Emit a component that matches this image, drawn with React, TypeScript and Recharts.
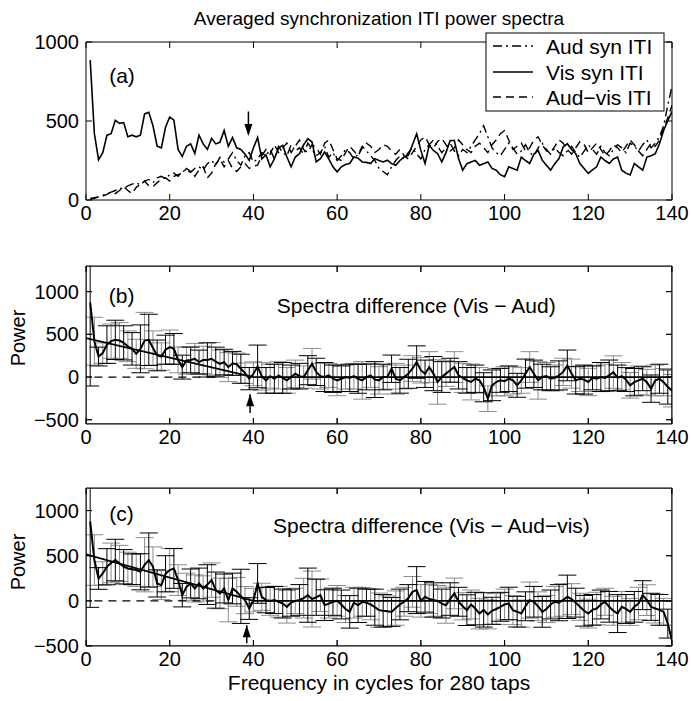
import React from 'react'
import { LineChart, Line, XAxis, YAxis, ErrorBar, ReferenceLine, ReferenceDot } from 'recharts'

// frequency bins 1..140 (x categories)
const freq = Array.from({ length: 140 }, (_, i) => i + 1)

const xTicks = [0, 20, 40, 60, 80, 100, 120, 140]
const yTicksA = [0, 500, 1000]
const yTicksBC = [-500, 0, 500, 1000]

// (a) averaged ITI power spectra
const visSyn = [
  885, 420, 255, 300, 410, 420, 505, 485, 490, 400,
  410, 400, 410, 545, 555, 470, 340, 330, 460, 525,
  505, 320, 275, 340, 355, 295, 410, 355, 320, 390,
  355, 365, 440, 340, 395, 330, 320, 290, 250, 330,
  395, 260, 285, 210, 260, 330, 346, 272, 210, 272,
  293, 350, 388, 367, 241, 262, 304, 260, 210, 178,
  210, 225, 231, 272, 265, 241, 238, 231, 262, 250,
  241, 252, 230, 220, 250, 272, 283, 350, 419, 314,
  231, 346, 314, 293, 241, 300, 377, 377, 262, 189,
  230, 241, 250, 220, 230, 241, 200, 189, 160, 147,
  210, 200, 189, 272, 250, 231, 290, 314, 252, 220,
  189, 230, 262, 335, 356, 320, 293, 231, 200, 168,
  190, 210, 272, 250, 231, 260, 272, 189, 170, 158,
  231, 210, 189, 272, 280, 293, 356, 440, 503, 560,
]
const audSyn = [
  10, 15, 20, 30, 40, 50, 60, 75, 70, 90,
  100, 110, 95, 120, 130, 110, 140, 150, 135, 160,
  170, 150, 180, 190, 175, 200, 210, 190, 230, 250,
  220, 270, 240, 260, 300, 250, 220, 280, 300, 240,
  260, 300, 280, 320, 260, 340, 300, 280, 350, 310,
  330, 290, 360, 320, 280, 300, 340, 270, 300, 250,
  280, 320, 300, 260, 290, 340, 310, 280, 250, 200,
  180, 160, 210, 250, 280, 260, 300, 330, 290, 260,
  320, 350, 380, 340, 300, 330, 360, 310, 280, 320,
  300, 340, 380, 420, 470, 400, 330, 300, 280, 320,
  360, 330, 290, 310, 350, 300, 280, 330, 360, 320,
  290, 330, 300, 280, 310, 340, 300, 270, 310, 350,
  320, 290, 340, 300, 280, 320, 350, 330, 300, 360,
  340, 310, 350, 380, 330, 360, 400, 470, 600, 720,
]
const audVis = [
  5, 10, 20, 25, 35, 50, 40, 60, 85, 60,
  40, 80, 100, 120, 90, 85, 110, 130, 140, 120,
  150, 160, 170, 200, 180, 150, 190, 210, 140, 170,
  230, 260, 210, 250, 200, 180, 210, 230, 200, 215,
  220, 280, 320, 290, 350, 300, 330, 360, 300, 340,
  380, 320, 300, 350, 330, 290, 360, 380, 320, 260,
  250, 300, 340, 310, 280, 330, 360, 340, 300, 320,
  350, 340, 310, 290, 320, 280, 260, 300, 340, 380,
  400, 350, 330, 370, 390, 350, 310, 330, 380, 350,
  320, 300, 340, 360, 330, 300, 350, 380, 420, 440,
  380, 320, 340, 360, 310, 330, 380, 400, 350, 310,
  300, 340, 380, 360, 320, 290, 330, 370, 350, 300,
  330, 360, 320, 280, 310, 350, 330, 300, 340, 380,
  350, 310, 280, 320, 360, 340, 380, 450, 520, 600,
]

// (b) Vis - Aud difference, mean and error
const diffVA = [
  875, 420, 240, 280, 380, 420, 435, 427, 400, 360,
  330, 272, 330, 427, 435, 340, 253, 240, 320, 350,
  330, 200, 116, 194, 200, 214, 175, 200, 200, 214,
  180, 155, 175, 116, 160, 150, 97, 45, -19, 38,
  124, 8, -39, 10, -20, 19, -10, -39, 0, 38,
  10, 0, 80, 155, 60, 10, 0, 19, -20, -39,
  -20, 0, -10, 10, -20, -39, 0, 19, -30, -39,
  0, 0, 97, -20, -39, 0, 38, 100, 175, 80,
  38, 117, 40, -58, 0, 40, 80, 117, 20, -10,
  -39, -58, -20, -39, -120, -253, -97, -60, -39, -50,
  -20, -39, -97, -40, 40, 117, 38, -39, 0, 10,
  -20, -10, 19, 60, 136, 40, -39, -20, -30, -58,
  -10, -20, 0, -10, 19, 58, -10, 10, -30, -97,
  -60, -40, -20, -60, -136, -40, -20, -60, -117, -160,
]
const errVA = [
  980, 280, 110, 120, 220, 200, 230, 210, 200, 180,
  190, 170, 280, 330, 300, 200, 180, 160, 170, 200,
  180, 150, 140, 160, 150, 180, 140, 160, 200, 190,
  170, 160, 150, 170, 140, 130, 170, 120, 130, 140,
  250, 160, 150, 140, 170, 160, 180, 150, 140, 160,
  150, 130, 170, 180, 160, 150, 170, 140, 160, 180,
  150, 140, 160, 150, 170, 220, 150, 140, 210, 160,
  150, 140, 160, 180, 150, 140, 170, 150, 190, 150,
  160, 180, 200, 260, 180, 150, 140, 180, 160, 170,
  150, 210, 160, 150, 170, 150, 180, 160, 140, 170,
  150, 160, 140, 150, 170, 180, 160, 220, 150, 160,
  140, 150, 170, 160, 180, 170, 160, 150, 170, 160,
  140, 150, 170, 160, 180, 190, 150, 160, 140, 150,
  160, 170, 140, 150, 160, 180, 170, 160, 200, 190,
]

// (c) Vis - Aud-vis difference, mean and error
const diffVAV = [
  878, 452, 248, 303, 378, 420, 452, 415, 378, 359,
  350, 341, 322, 400, 452, 378, 193, 174, 300, 341,
  359, 230, 63, 156, 193, 137, 193, 137, 180, 230,
  119, 82, 137, 8, 137, 100, 50, 8, -85, 8,
  193, 45, 8, 0, 10, -10, -30, -66, -20, 0,
  10, 30, 63, 20, 40, 63, -48, -30, -10, 0,
  -40, -90, -122, -20, -50, -10, -20, -40, -70, -103,
  -110, -115, -122, -80, -40, -10, 30, 100, 119, 0,
  45, 20, 10, 0, -30, -48, 20, 82, -10, -60,
  -103, -40, -85, -141, -100, -150, -110, -90, -66, -40,
  -29, -103, -120, -141, -60, 8, -10, -60, -122, -90,
  -40, -10, -20, 10, 45, 20, -20, -66, -110, -141,
  -100, -85, -40, -10, -66, -110, -141, -66, -90, -122,
  -66, -30, 63, 8, -66, -85, -100, -122, -252, -440,
]
const errVAV = [
  950, 280, 120, 130, 200, 220, 230, 200, 190, 180,
  170, 180, 200, 300, 300, 220, 150, 160, 200, 240,
  220, 170, 130, 150, 160, 150, 170, 140, 220, 190,
  200, 170, 160, 240, 170, 160, 300, 150, 120, 130,
  220, 150, 140, 160, 150, 170, 160, 180, 150, 140,
  170, 220, 300, 310, 200, 180, 170, 160, 150, 170,
  160, 150, 180, 170, 190, 160, 150, 170, 200, 190,
  180, 170, 160, 190, 170, 160, 150, 170, 260, 180,
  170, 160, 190, 170, 160, 200, 180, 170, 160, 150,
  170, 160, 180, 170, 190, 160, 150, 170, 160, 170,
  180, 160, 170, 150, 160, 200, 170, 160, 170, 150,
  160, 170, 200, 180, 240, 170, 160, 150, 170, 160,
  170, 180, 160, 150, 170, 160, 210, 170, 160, 150,
  170, 180, 160, 170, 150, 160, 170, 150, 160, 170,
]

// piecewise fit lines and zero reference
const fitX = [0, 40, 140]
const fitVA = [455, 0, 0]
const fitVAV = [515, 0, 0]
const zeroX = [2, 31]
const zeroY = [0, 0]

const rows = freq.map((f, i) => ({
  f,
  vis: visSyn[i],
  aud: audSyn[i],
  av: audVis[i],
  dB: diffVA[i],
  eBk: i % 2 === 0 ? errVA[i] : null,
  eBg: i % 2 === 1 ? errVA[i] : null,
  dC: diffVAV[i],
  eCk: i % 2 === 0 ? errVAV[i] : null,
  eCg: i % 2 === 1 ? errVAV[i] : null,
}))
const fitRowsB = fitX.map((f, i) => ({ f, y: fitVA[i] }))
const fitRowsC = fitX.map((f, i) => ({ f, y: fitVAV[i] }))
const zeroRows = zeroX.map((f, i) => ({ f, y: zeroY[i] }))

const FONT = '"Liberation Sans", Arial, Helvetica, sans-serif'
const FS_TICK = 20
const FS = 21
const W = 691
const PH = 230 // height of each lower panel's svg
const MARGIN = { top: 35, right: 18, bottom: 6, left: 36 }

const fmt = (v: number) => (v < 0 ? '\u2212' + Math.abs(v) : String(v))

const BottomTick = ({ x, y, payload }: any) => (
  <g>
    <line x1={x} x2={x} y1={y} y2={y - 6} stroke="#000" />
    <text x={x} y={y + 20} textAnchor="middle" fontSize={FS_TICK} fontFamily={FONT} fill="#000">
      {fmt(payload.value)}
    </text>
  </g>
)
const TopTick = ({ x, y }: any) => <line x1={x} x2={x} y1={y} y2={y + 6} stroke="#000" />
const LeftTick = ({ x, y, payload }: any) => (
  <g>
    <line x1={x} x2={x + 6} y1={y} y2={y} stroke="#000" />
    <text x={x - 7} y={y + 7} textAnchor="end" fontSize={FS_TICK} fontFamily={FONT} fill="#000">
      {fmt(payload.value)}
    </text>
  </g>
)
const RightTick = ({ x, y }: any) => <line x1={x} x2={x - 6} y1={y} y2={y} stroke="#000" />

const TextMark = (txt: string, anchor: string = 'start') => (p: any) => (
  <text x={p.cx} y={p.cy} textAnchor={anchor} dominantBaseline="middle" fontSize={FS} fontFamily={FONT} fill="#000">
    {txt}
  </text>
)
const ArrowHead = (dir: 'up' | 'down') => (p: any) => {
  const { cx, cy } = p
  const d = dir === 'down' ? -1 : 1
  return <polygon points={`${cx - 4},${cy + d * 12} ${cx + 4},${cy + d * 12} ${cx},${cy}`} fill="#000" />
}

// box on: ticks inward on all four sides
function frame(domain: number[], yTicks: number[]) {
  return [
    <XAxis key="xb" xAxisId="b" type="number" dataKey="f" domain={[0, 140]} ticks={xTicks} interval={0}
      allowDataOverflow height={30} tickSize={0} tickMargin={0} tickLine={false}
      axisLine={{ stroke: '#000' }} tick={<BottomTick />} />,
    <XAxis key="xt" xAxisId="t" type="number" dataKey="f" orientation="top" domain={[0, 140]} ticks={xTicks}
      interval={0} allowDataOverflow height={1} tickSize={0} tickMargin={0} tickLine={false}
      axisLine={{ stroke: '#000' }} tick={<TopTick />} />,
    <YAxis key="yl" yAxisId="l" type="number" domain={domain} ticks={yTicks} interval={0} allowDataOverflow
      width={50} tickSize={0} tickMargin={0} tickLine={false} axisLine={{ stroke: '#000' }} tick={<LeftTick />} />,
    <YAxis key="yr" yAxisId="r" type="number" orientation="right" domain={domain} ticks={yTicks} interval={0}
      allowDataOverflow width={1} tickSize={0} tickMargin={0} tickLine={false} axisLine={{ stroke: '#000' }}
      tick={<RightTick />} />,
    <Line key="ghost" xAxisId="t" yAxisId="r" dataKey="f" stroke="none" dot={false} activeDot={false}
      isAnimationActive={false} legendType="none" />,
  ]
}

const ax = { xAxisId: 'b', yAxisId: 'l' }

function DiffPanel({ top, meanKey, errK, errG, fitRows, opts, label, title, arrowTip, arrowTail, arrowX }: any) {
  const plotTop = MARGIN.top + 1
  const plotBottom = PH - MARGIN.bottom - 30
  return (
    <>
      {/* error bars, clipped to the plot box */}
      <div style={{
        position: 'absolute', left: 0, top, width: W, height: PH,
        clipPath: `inset(${plotTop}px ${MARGIN.right + 1}px ${PH - plotBottom}px ${MARGIN.left + 50}px)`,
      }}>
        <LineChart width={W} height={PH} data={rows} margin={MARGIN}>
          {frame(opts.domain, yTicksBC)}
          <Line {...ax} dataKey={meanKey} stroke="none" dot={false} activeDot={false} isAnimationActive={false}>
            <ErrorBar dataKey={errG} direction="y" width={9} stroke="#8c8c8c" strokeWidth={1} />
            <ErrorBar dataKey={errK} direction="y" width={9} stroke="#000" strokeWidth={1} />
          </Line>
        </LineChart>
      </div>
      <div style={{ position: 'absolute', left: 0, top, width: W, height: PH }}>
        <LineChart width={W} height={PH} data={rows} margin={MARGIN}>
          {frame(opts.domain, yTicksBC)}
          <Line {...ax} data={zeroRows} dataKey="y" stroke="#000" strokeWidth={1.2} strokeDasharray="8 6"
            dot={false} activeDot={false} isAnimationActive={false} />
          <Line {...ax} data={fitRows} dataKey="y" stroke="#000" strokeWidth={1.8} dot={false} activeDot={false}
            isAnimationActive={false} />
          <Line {...ax} dataKey={meanKey} stroke="#000" strokeWidth={2} dot={false} activeDot={false}
            isAnimationActive={false} />
          <ReferenceLine {...ax} segment={[{ x: arrowX, y: arrowTail }, { x: arrowX, y: arrowTip }]} stroke="#000"
            strokeWidth={1.5} />
          <ReferenceDot {...ax} x={arrowX} y={arrowTip} r={0} shape={ArrowHead('up')} />
          <ReferenceDot {...ax} x={8.5} y={opts.labelY} r={0} shape={TextMark(label, 'middle')} />
          <ReferenceDot {...ax} x={opts.titleX} y={opts.titleY} r={0} shape={TextMark(title)} />
        </LineChart>
      </div>
    </>
  )
}

export default function App() {
  return (
    <div style={{ position: 'absolute', left: 0, top: 0, width: W, height: 701, background: '#fff', fontFamily: FONT }}>
      <div style={{ position: 'absolute', left: 0, top: 0, width: W, height: 240 }}>
        <LineChart width={W} height={240} data={rows} margin={{ top: 41, right: 18, bottom: 10, left: 36 }}>
          {frame([0, 1000], yTicksA)}
          <Line {...ax} dataKey="aud" stroke="#000" strokeWidth={1.4} strokeDasharray="9 4 2 4" dot={false}
            activeDot={false} isAnimationActive={false} />
          <Line {...ax} dataKey="av" stroke="#000" strokeWidth={1.4} strokeDasharray="8 5" dot={false}
            activeDot={false} isAnimationActive={false} />
          <Line {...ax} dataKey="vis" stroke="#000" strokeWidth={1.6} dot={false} activeDot={false}
            isAnimationActive={false} />
          <ReferenceLine {...ax} segment={[{ x: 38.8, y: 560 }, { x: 38.8, y: 420 }]} stroke="#000" strokeWidth={1.5} />
          <ReferenceDot {...ax} x={38.8} y={405} r={0} shape={ArrowHead('down')} />
          <ReferenceDot {...ax} x={8.6} y={773} r={0} shape={TextMark('(a)', 'middle')} />
        </LineChart>
      </div>

      <DiffPanel top={230} meanKey="dB" errK="eBk" errG="eBg" fitRows={fitRowsB}
        opts={{ domain: [-550, 1300], labelY: 937, titleX: 45.6, titleY: 820 }}
        label="(b)" title={'Spectra difference (Vis \u2212 Aud)'} arrowX={39.2} arrowTip={-203} arrowTail={-420} />

      <DiffPanel top={452} meanKey="dC" errK="eCk" errG="eCg" fitRows={fitRowsC}
        opts={{ domain: [-500, 1250], labelY: 941, titleX: 44.7, titleY: 808 }}
        label="(c)" title={'Spectra difference (Vis \u2212 Aud\u2212vis)'} arrowX={38.4} arrowTip={-270} arrowTail={-470} />

      <svg width={W} height={701} style={{ position: 'absolute', left: 0, top: 0, pointerEvents: 'none' }}>
        <text x={379} y={25} textAnchor="middle" fontSize={19} fontFamily={FONT} fill="#000">
          Averaged synchronization ITI power spectra
        </text>
        <text transform="translate(25,338) rotate(-90)" textAnchor="middle" fontSize={FS_TICK} fontFamily={FONT} fill="#000">
          Power
        </text>
        <text transform="translate(25,562) rotate(-90)" textAnchor="middle" fontSize={FS_TICK} fontFamily={FONT} fill="#000">
          Power
        </text>
        <text x={379} y={690} textAnchor="middle" fontSize={FS} fontFamily={FONT} fill="#000">
          Frequency in cycles for 280 taps
        </text>
        <g>
          <rect x={486} y={33} width={178} height={78} fill="#fff" stroke="#000" strokeWidth={1} />
          <line x1={493} x2={533} y1={46} y2={46} stroke="#000" strokeWidth={1.4} strokeDasharray="9 4 2 4" />
          <line x1={493} x2={533} y1={72} y2={72} stroke="#000" strokeWidth={1.6} />
          <line x1={493} x2={533} y1={97} y2={97} stroke="#000" strokeWidth={1.4} strokeDasharray="8 5" />
          <text x={546} y={53.5} fontSize={FS} fontFamily={FONT} fill="#000">Aud syn ITI</text>
          <text x={546} y={79.5} fontSize={FS} fontFamily={FONT} fill="#000">Vis syn ITI</text>
          <text x={546} y={104.5} fontSize={FS} fontFamily={FONT} fill="#000">{'Aud\u2212vis ITI'}</text>
        </g>
      </svg>
    </div>
  )
}
